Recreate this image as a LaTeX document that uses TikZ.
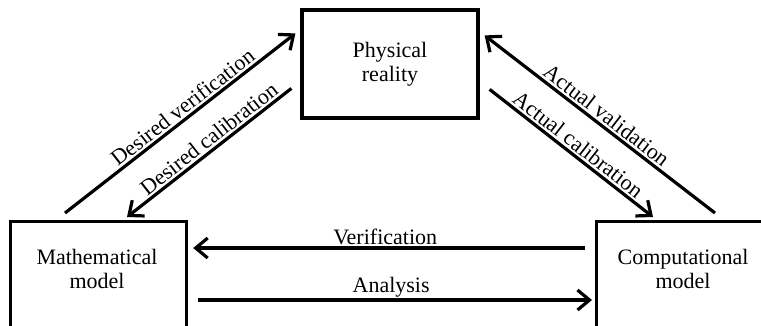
\documentclass[tikz,border=0pt]{standalone}
\usepackage{fontspec}
\setmainfont{Liberation Serif}
\usetikzlibrary{arrows.meta,calc}
\begin{document}
\begin{tikzpicture}[x=1pt,y=-1pt,
  box/.style={draw, line width=3.2pt, minimum width=176pt, inner sep=0pt},
  txt/.style={align=center, font=\fontsize{22}{23.5}\selectfont, inner sep=0pt},
  conn/.style={line width=3.2pt, -{Straight Barb[length=12pt,width=20pt,line width=3.2pt]}},
  lbl/.style={font=\fontsize{22}{24}\selectfont, inner sep=2pt}
]
\useasboundingbox (0,0) rectangle (761,325);
% boxes
\node[box, minimum height=108pt, txt, draw, line width=3.2pt, minimum width=176pt] (phys) at (390,64) {Physical\\reality};
\node[box, minimum height=140pt, anchor=north west] (math) at (9,220) {};
\node[txt] (mathtxt) at (97,269) {Mathematical\\model};
\node[box, minimum height=140pt, anchor=north west] (comp) at (595,220) {};
\node[txt] (comptxt) at (683,269) {Computational\\model};
% connectors
\draw[conn] ($(math.north west)+(56,-7)$) -- node[lbl, sloped, above, pos=0.54] {Desired verification} ($(phys.north west)+(-5,25)$);
\draw[conn] ($(phys.north west)+(-9,80)$) -- node[lbl, sloped, above, pos=0.46] {Desired calibration} ($(math.north west)+(118,-3)$);
\draw[conn] ($(comp.north west)+(120,-7)$) -- node[lbl, sloped, above, pos=0.5] {Actual validation} ($(phys.north east)+(5,27)$);
\draw[conn] ($(phys.north east)+(10,81)$) -- node[lbl, sloped, above, pos=0.5] {Actual calibration} ($(comp.north west)+(58,-3)$);
\draw[conn] ($(comp.north west)+(-10,28)$) -- node[lbl, above, pos=0.51, inner sep=1.5pt] {Verification} ($(math.north east)+(5,28)$);
\draw[conn] ($(math.north east)+(10,80)$) -- node[lbl, above, pos=0.49, inner sep=1pt] {Analysis} ($(comp.north west)+(-3,80)$);
\end{tikzpicture}
\end{document}
